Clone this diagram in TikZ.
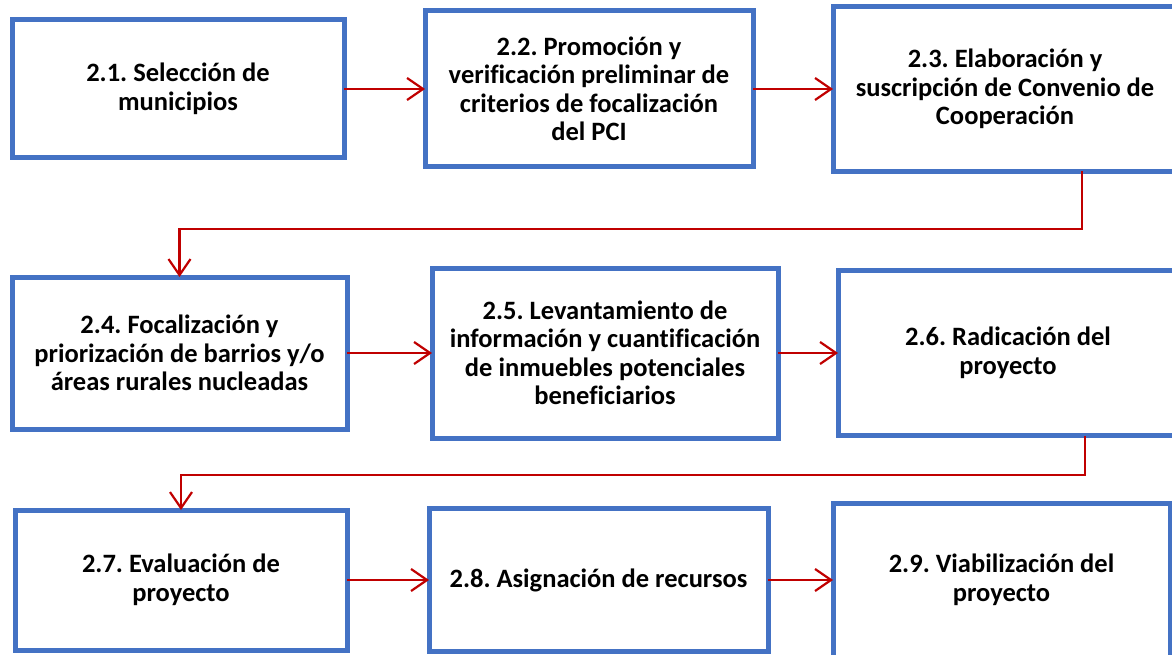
\documentclass[tikz,border=0pt]{standalone}
\usepackage{fontspec}
\setmainfont{Carlito}[Ligatures=NoCommon]
\usetikzlibrary{arrows.meta,calc}
\definecolor{boxblue}{HTML}{4472C4}
\definecolor{arrred}{HTML}{C00000}
\tikzset{
  stage/.style={draw=boxblue, line width=5pt, fill=white, inner sep=0pt, outer sep=0pt,
    align=center, font=\fontsize{26.5}{28.5}\selectfont\bfseries\frenchspacing, text=black},
  flow/.style={draw=arrred, line width=2.2pt, -{Straight Barb[length=16pt,width=22pt,line width=2.2pt]}}
}
\begin{document}
\begin{tikzpicture}[x=1pt,y=-1pt]
\useasboundingbox (0,0) rectangle (1172,655);
\clip (0,0) rectangle (1172,655);
\node[stage, minimum width=332pt, minimum height=138pt] (b1) at (178,89) {2.1. Selección de\\municipios};
\node[stage, minimum width=328pt, minimum height=156pt] (b2) at (589,89) {2.2. Promoción y\\verificación preliminar de\\criterios de focalización\\del PCI};
\node[stage, minimum width=344pt, minimum height=165pt] (b3) at (1005,89) {2.3. Elaboración y\\suscripción de Convenio de\\Cooperación};
\node[stage, minimum width=335pt, minimum height=152pt] (b4) at (179.5,353) {2.4. Focalización y\\priorización de barrios y/o\\áreas rurales nucleadas};
\node[stage, minimum width=346pt, minimum height=170pt] (b5) at (605,353) {2.5. Levantamiento de\\información y cuantificación\\de inmuebles potenciales\\beneficiarios};
\node[stage, minimum width=340pt, minimum height=165pt] (b6) at (1008,353) {2.6. Radicación del\\proyecto};
\node[stage, minimum width=332pt, minimum height=140pt] (b7) at (181,580) {2.7. Evaluación de\\proyecto};
\node[stage, minimum width=339pt, minimum height=143pt] (b8) at (598.5,580) {2.8. Asignación de recursos};
\node[stage, minimum width=337pt, minimum height=154pt] (b9) at (1001.5,580) {2.9. Viabilización del\\proyecto};
\coordinate (t1) at (1082,229);
\coordinate (t2) at (1085,475);
\draw[flow] (b1.east) -- (b2.west);
\draw[flow] (b2.east) -- (b3.west);
\draw[flow] (b3.south -| t1) -- (t1) -| (b4.north);
\draw[flow] (b4.east) -- (b5.west);
\draw[flow] (b5.east) -- (b6.west);
\draw[flow] (b6.south -| t2) -- (t2) -| (b7.north);
\draw[flow] (b7.east) -- (b8.west);
\draw[flow] (b8.east) -- (b9.west);
\end{tikzpicture}
\end{document}
